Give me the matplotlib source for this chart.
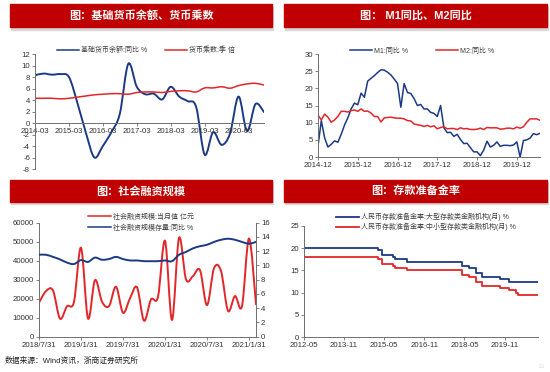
import numpy as np
import pandas as pd
import matplotlib
matplotlib.use('Agg')
import matplotlib.pyplot as plt
from matplotlib.path import Path
from matplotlib.patches import PathPatch, Rectangle
from matplotlib.lines import Line2D

plt.rcParams['font.family'] = ['Liberation Sans', 'Noto Sans CJK SC']
plt.rcParams['axes.unicode_minus'] = False

# 数据：基础货币余额同比 / 货币乘数（季度）
q_dates = pd.date_range('2014-03-31', '2020-12-31', freq='QE')
base_money_yoy = [8.3, 8.6, 8.4, 8.5, 8.0, 3.5, -1.7, -6.0, -4.0, -1.6, 1.6, 10.3,
                  6.3, 5.0, 5.1, 4.1, 6.3, 4.6, 3.8, 2.8, -5.5, -1.6, -3.8, -1.8,
                  4.6, -1.4, 3.3, 1.9]
money_mult = [4.3, 4.3, 4.3, 4.2, 4.3, 4.5, 4.7, 4.9, 5.0, 5.1, 5.1, 5.0,
              5.3, 5.4, 5.4, 5.3, 5.5, 5.6, 5.6, 5.4, 6.1, 6.1, 6.3, 6.05,
              6.5, 6.8, 6.9, 6.6]

# 数据：M1 / M2 同比（月度）
m_dates = pd.date_range('2014-12-31', '2020-07-31', freq='ME')
m1_yoy = [3.2,
          10.6, 5.6, 2.9, 3.7, 4.7, 4.3, 6.6, 9.3, 11.4, 14.0, 15.7, 15.2,
          18.6, 17.4, 22.1, 22.9, 23.7, 24.6, 25.4, 25.3, 24.7, 23.9, 22.7, 21.4,
          14.5, 21.4, 18.8, 18.5, 17.0, 15.0, 15.3, 14.0, 14.0, 13.0, 12.7, 11.8,
          15.0, 8.5, 7.1, 7.2, 6.0, 6.6, 5.1, 3.9, 4.0, 2.7, 1.5, 1.5,
          0.4, 2.0, 4.6, 2.9, 3.4, 4.4, 3.1, 3.4, 3.4, 3.3, 3.5, 4.4,
          0.0, 4.8, 5.0, 5.5, 6.8, 6.5, 6.9]
m2_yoy = [12.2,
          10.8, 12.5, 11.6, 10.1, 10.8, 11.8, 13.3, 13.3, 13.1, 13.5, 13.7, 13.3,
          14.0, 13.3, 13.4, 12.8, 11.8, 11.8, 10.2, 11.4, 11.5, 11.6, 11.4, 11.3,
          11.3, 11.1, 10.6, 10.5, 9.6, 9.4, 9.2, 8.9, 9.2, 8.8, 9.1, 8.2,
          8.6, 8.8, 8.2, 8.3, 8.3, 8.0, 8.5, 8.2, 8.3, 8.0, 8.0, 8.1,
          8.4, 8.0, 8.6, 8.5, 8.5, 8.5, 8.1, 8.2, 8.4, 8.4, 8.2, 8.7,
          8.4, 8.8, 10.1, 11.1, 11.1, 11.1, 10.7]

# 数据：社会融资规模（月度）
tsf_dates = pd.date_range('2018-07-31', '2021-02-28', freq='ME')
tsf_month = [17900, 24000, 24300, 9500, 16000, 18400, 46800, 9600, 29800, 18400,
             16100, 26300, 12600, 20200, 26000, 8400, 19600, 21000, 50500, 8800,
             52000, 30200, 31900, 35000, 16600, 36000, 34600, 13600, 21400, 16100,
             51700, 17100]
tsf_stock_yoy = [11.5, 11.5, 11.2, 10.85, 10.4, 10.2, 10.75, 10.5, 11.1, 10.8,
                 10.9, 11.2, 10.9, 10.7, 10.7, 10.6, 10.6, 10.6, 10.7, 10.6,
                 11.5, 11.9, 12.4, 12.7, 12.9, 13.3, 13.6, 13.75, 13.6, 13.3,
                 13.05, 13.3]

# 数据：存款准备金率（调整月份及水平）
rrr_start = '2012-05'
rrr_large_dates = ['2012-05', '2015-02', '2015-04', '2015-09', '2015-10', '2016-03',
                   '2018-04', '2018-07', '2018-10', '2019-01', '2019-09', '2020-01', '2021-02']
rrr_large = [20.0, 19.5, 18.5, 18.0, 17.5, 17.0, 16.0, 15.5, 14.5, 13.5, 13.0, 12.5, 12.5]
rrr_small_dates = ['2012-05', '2015-02', '2015-04', '2015-09', '2015-10', '2016-03',
                   '2018-04', '2018-07', '2018-10', '2019-01', '2019-09', '2020-01',
                   '2020-04', '2020-05', '2021-02']
rrr_small = [18.0, 17.5, 16.5, 16.0, 15.5, 15.0, 14.0, 13.5, 12.5, 11.5, 11.0, 10.5,
             10.0, 9.5, 9.5]
rrr_tick_labels = ['2012-05', '2013-11', '2015-05', '2016-11', '2018-05', '2019-11']

BLUE = '#1c3a84'
RED = '#e3262a'
BANNER = '#c00000'
AX = '#6f6f6f'
TXT = '#333333'
W, H = 550, 372


def fx(px):
    return px / W


def fy(py):
    return 1 - py / H


def month_idx(s, start=rrr_start):
    y, m = map(int, s.split('-'))
    y0, m0 = map(int, start.split('-'))
    return (y - y0) * 12 + (m - m0)


def smooth_line(ax, x, y, color, lw):
    # 类似 Excel 平滑线：Catmull-Rom 转三次贝塞尔
    p = np.column_stack([x, y]).astype(float)
    verts = [p[0]]
    codes = [Path.MOVETO]
    n = len(p)
    for i in range(n - 1):
        p0 = p[i - 1] if i > 0 else p[i]
        p3 = p[i + 2] if i + 2 < n else p[i + 1]
        verts += [p[i] + (p[i + 1] - p0) / 6, p[i + 1] - (p3 - p[i]) / 6, p[i + 1]]
        codes += [Path.CURVE4] * 3
    ax.add_patch(PathPatch(Path(verts, codes), fill=False, edgecolor=color, lw=lw,
                           joinstyle='round', capstyle='round'))


def style_axes(ax, right=False):
    for s in ['top', 'right']:
        ax.spines[s].set_visible(False)
    for s in ['left', 'bottom', 'right']:
        ax.spines[s].set_color(AX)
        ax.spines[s].set_linewidth(0.7)
    ax.tick_params(labelsize=5.6, colors=AX, labelcolor=TXT, length=2, width=0.6, pad=1.5)
    ax.set_facecolor('none')


def banner(x0, y0, x1, y1, text):
    fig.add_artist(Rectangle((fx(x0 + 1), fy(y1 + 2.5)), fx(x1 - x0), (y1 - y0) / H,
                             transform=fig.transFigure, color='#d8d8d8', zorder=0))
    fig.add_artist(Rectangle((fx(x0), fy(y1)), fx(x1 - x0), (y1 - y0) / H,
                             transform=fig.transFigure, color=BANNER, zorder=1))
    fig.text(fx((x0 + x1) / 2), fy((y0 + y1) / 2), text, color='white', fontsize=8,
             fontweight='bold', ha='center', va='center', zorder=2)


fig = plt.figure(figsize=(5.5, 3.72), dpi=100)

banner(10, 4, 272, 27, '图：基础货币余额、货币乘数')
banner(284, 4, 547, 27, '图： M1同比、M2同比')
banner(10, 180, 272, 202, '图：社会融资规模')
banner(284, 180, 547, 202, '图：存款准备金率')

leg_kw = dict(frameon=False, fontsize=5, handlelength=3.2, handletextpad=0.3,
              borderpad=0, labelcolor='#404040')

# ---- 图1 ----
ax1 = fig.add_axes([fx(35), fy(169), fx(264 - 35), (169 - 54) / H])
style_axes(ax1)
x1 = np.arange(len(q_dates))
smooth_line(ax1, x1, base_money_yoy, BLUE, 1.4)
smooth_line(ax1, x1, money_mult, RED, 1.1)
ax1.set_xlim(0, len(q_dates) - 1)
ax1.set_ylim(-8, 12)
ax1.set_yticks(range(-8, 13, 2))
ax1.spines['bottom'].set_position(('data', 0))
ax1.set_xticks(x1[::4])
ax1.set_xticklabels([d.strftime('%Y-%m') for d in q_dates[::4]])
ax1.legend([Line2D([], [], color=BLUE, lw=1.1), Line2D([], [], color=RED, lw=1.1)],
           ['基础货币余额:同比 %', '货币乘数:季 倍'], ncol=2, loc='center',
           bbox_to_anchor=(fx(146), fy(50.5)), bbox_transform=fig.transFigure,
           columnspacing=2.5, **leg_kw)

# ---- 图2 ----
ax2 = fig.add_axes([fx(318), fy(157), fx(540 - 318), (157 - 54) / H])
style_axes(ax2)
x2 = np.arange(len(m_dates))
ax2.plot(x2, m1_yoy, color=BLUE, lw=1.1, label='M1:同比 %')
ax2.plot(x2, m2_yoy, color=RED, lw=1.1, label='M2:同比 %')
ax2.set_xlim(0, len(m_dates) - 1)
ax2.set_ylim(0, 30)
ax2.set_yticks(range(0, 31, 5))
ax2.set_xticks(x2[::12])
ax2.set_xticklabels([d.strftime('%Y-%m') for d in m_dates[::12]])
ax2.legend(ncol=2, loc='center', bbox_to_anchor=(fx(422), fy(51)),
           bbox_transform=fig.transFigure, columnspacing=4, **leg_kw)

# ---- 图3 ----
ax3 = fig.add_axes([fx(39), fy(336.7), fx(256 - 39), (336.7 - 222.7) / H])
style_axes(ax3)
ax3r = ax3.twinx()
style_axes(ax3r)
ax3r.spines['right'].set_visible(True)
ax3r.spines['left'].set_visible(False)
ax3r.spines['bottom'].set_visible(False)
x3 = np.arange(len(tsf_dates))
smooth_line(ax3, x3, tsf_month, RED, 1.4)
smooth_line(ax3r, x3, tsf_stock_yoy, BLUE, 1.4)
ax3.set_xlim(0, len(tsf_dates) - 1)
ax3.set_ylim(0, 60000)
ax3.set_yticks(range(0, 60001, 10000))
ax3r.set_ylim(0, 16)
ax3r.set_yticks(range(0, 17, 2))
ax3.set_xticks(x3[::6])
ax3.set_xticklabels([f'{d.year}/{d.month}/{d.day}' for d in tsf_dates[::6]])
ax3.legend([Line2D([], [], color=RED, lw=1.1), Line2D([], [], color=BLUE, lw=1.1)],
           ['社会融资规模:当月值 亿元', '社会融资规模存量:同比 %'], loc='center left',
           bbox_to_anchor=(fx(85), fy(222.5)), bbox_transform=fig.transFigure,
           labelspacing=0.55, **leg_kw)

# ---- 图4 ----
ax4 = fig.add_axes([fx(304), fy(337), fx(538 - 304), (337 - 226) / H])
style_axes(ax4)
ax4.plot([month_idx(d) for d in rrr_large_dates], rrr_large, color=BLUE, lw=1.3,
         drawstyle='steps-post', label='人民币存款准备金率:大型存款类金融机构(月) %')
ax4.plot([month_idx(d) for d in rrr_small_dates], rrr_small, color=RED, lw=1.3,
         drawstyle='steps-post', label='人民币存款准备金率:中小型存款类金融机构(月) %')
ax4.set_xlim(0, month_idx(rrr_large_dates[-1]))
ax4.set_ylim(0, 25)
ax4.set_yticks(range(0, 26, 5))
ax4.set_xticks([month_idx(d) for d in rrr_tick_labels])
ax4.set_xticklabels(rrr_tick_labels)
ax4.legend(loc='center left', bbox_to_anchor=(fx(333), fy(222)),
           bbox_transform=fig.transFigure, labelspacing=0.25, **leg_kw)

fig.text(fx(5), fy(361), '数据来源：Wind资讯，浙商证券研究所', fontsize=5.6,
         color='#222222', ha='left', va='center')
fig.text(fx(541), fy(367), '13', fontsize=4.5, color='#dddddd', ha='center', va='center')

fig.savefig('out.png', dpi=100)
